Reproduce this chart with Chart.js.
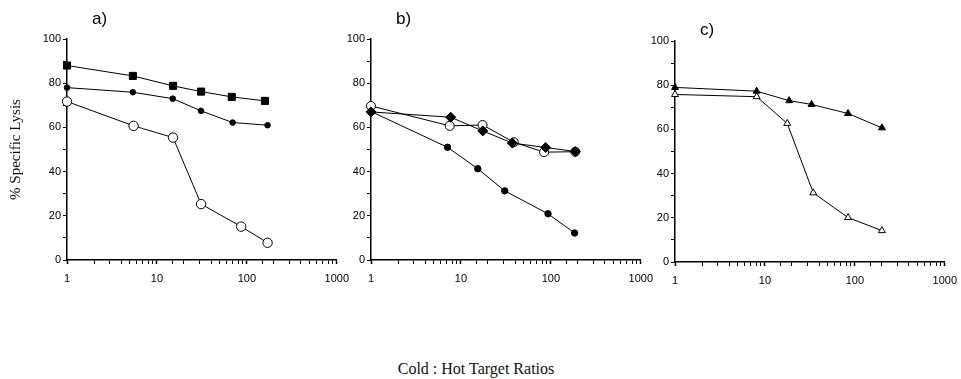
<!DOCTYPE html>
<html>
<head>
<meta charset="utf-8">
<script src="https://cdn.jsdelivr.net/npm/chart.js@4.4.1/dist/chart.umd.min.js"></script>
<style>
    body { margin: 0; background: #fff; }
    #wrap { position: relative; width: 961px; height: 379px; overflow: hidden; }
    #wrap canvas { position: absolute; }
    #caption { position: absolute; left: 0; width: 952px; top: 360px; text-align: center;
               font-family: 'Liberation Serif', serif; font-size: 16px; color: #111; }
</style>
</head>
<body>
<div id="wrap">
    <canvas id="panelA" width="357" height="300" style="left:0;top:0;"></canvas>
    <canvas id="panelB" width="357" height="300" style="left:304px;top:0;"></canvas>
    <canvas id="panelC" width="357" height="300" style="left:608px;top:2px;"></canvas>
    <div id="caption">Cold : Hot Target Ratios</div>
</div>
<script>
// panel letters and axis text
const panelTitles = ['a)', 'b)', 'c)'];
const yAxisTitle = '% Specific Lysis';
const xTickLabels = [1, 10, 100, 1000];
const yTickLabels = [0, 20, 40, 60, 80, 100];

// panel a
const aSquareX = [1, 5.4, 15.1, 31, 68, 159];
const aSquareY = [88, 83.3, 78.8, 76.2, 73.8, 72];
const aDotX = [1, 5.4, 15, 30.9, 69.5, 170];
const aDotY = [78, 75.9, 73, 67.5, 62.2, 61];
const aOpenX = [1, 5.5, 15.1, 31, 86.5, 170];
const aOpenY = [71.7, 60.7, 55.4, 25.3, 15.1, 7.8];

// panel b
const bDotX = [1, 7.1, 15.4, 30.7, 93, 184];
const bDotY = [67.2, 51, 41.3, 31.3, 20.9, 12.2];
const bDiamondX = [1, 7.7, 17.5, 37.3, 87.6, 187];
const bDiamondY = [67, 64.6, 58.4, 52.9, 50.9, 49.1];
const bOpenX = [1, 7.5, 17.4, 38.7, 84, 187];
const bOpenY = [69.7, 60.7, 61.1, 53.3, 48.8, 49];

// panel c
const cTriX = [1, 8.1, 18.6, 33, 84, 200];
const cTriY = [79, 77.3, 73, 71.3, 67.2, 60.7];
const cOpenTriX = [1, 8.1, 17.7, 34.5, 84, 200];
const cOpenTriY = [75.8, 74.8, 62.7, 31.3, 20.1, 14.2];

function pts(xs, ys) {
    return xs.map((x, i) => ({ x: x, y: ys[i] }));
}

function serie(xs, ys, style, radius, filled) {
    return {
        data: pts(xs, ys),
        showLine: true,
        borderColor: '#000',
        borderWidth: 1,
        pointStyle: style,
        pointRadius: radius,
        pointBorderWidth: 1,
        pointBorderColor: '#000',
        pointBackgroundColor: filled ? '#000' : '#fff',
        clip: false
    };
}

// draws the a) b) c) letters
const panelLetter = {
    id: 'panelLetter',
    afterDraw(chart, args, opts) {
        const ctx = chart.ctx;
        ctx.save();
        ctx.font = '17px "Liberation Sans", sans-serif';
        ctx.fillStyle = '#000';
        ctx.textBaseline = 'middle';
        ctx.fillText(opts.text, chart.chartArea.left + 25, opts.y);
        ctx.restore();
    }
};

function makePanel(id, datasets, letter, letterY, showYTitle) {
    const tickFont = { family: '"Liberation Sans", sans-serif', size: 11 };
    return new Chart(document.getElementById(id), {
        type: 'scatter',
        data: { datasets: datasets },
        plugins: [panelLetter],
        options: {
            responsive: false,
            animation: false,
            devicePixelRatio: 1,
            layout: { padding: { left: 0, top: 39, right: 20, bottom: 0 } },
            plugins: {
                legend: { display: false },
                tooltip: { enabled: false },
                panelLetter: { text: letter, y: letterY }
            },
            scales: {
                x: {
                    type: 'logarithmic',
                    min: 1,
                    max: 1000,
                    border: { color: '#000', width: 1.5 },
                    grid: {
                        drawOnChartArea: false, color: '#000', tickColor: '#000', tickLength: 4,
                        tickWidth: c => xTickLabels.includes(c.tick && c.tick.value) ? 1.5 : 1
                    },
                    ticks: {
                        color: '#000',
                        font: tickFont,
                        padding: 8,
                        maxRotation: 0,
                        autoSkip: false,
                        callback: v => xTickLabels.includes(v) ? String(v) : ''
                    },
                    afterFit: s => { s.height = 40; }
                },
                y: {
                    min: 0,
                    max: 100,
                    border: { color: '#000', width: 1.5 },
                    grid: { drawOnChartArea: false, color: '#000', tickColor: '#000', tickLength: 4 },
                    ticks: {
                        stepSize: 10,
                        color: '#000',
                        font: tickFont,
                        padding: 2,
                        callback: v => yTickLabels.includes(v) ? String(v) : ''
                    },
                    title: {
                        display: showYTitle,
                        text: yAxisTitle,
                        color: '#111',
                        font: { family: '"Liberation Serif", serif', size: 15 },
                        padding: { top: 7, bottom: 0 }
                    },
                    afterFit: s => { s.width = 67; }
                }
            }
        }
    });
}

makePanel('panelA', [
    serie(aSquareX, aSquareY, 'rect', 5, true),
    serie(aDotX, aDotY, 'circle', 2.8, true),
    serie(aOpenX, aOpenY, 'circle', 4.7, false)
], panelTitles[0], 19, true);

makePanel('panelB', [
    serie(bDotX, bDotY, 'circle', 3.2, true),
    serie(bDiamondX, bDiamondY, 'rectRot', 5, true),
    serie(bOpenX, bOpenY, 'circle', 4.5, false)
], panelTitles[1], 19, false);

makePanel('panelC', [
    serie(cTriX, cTriY, 'triangle', 4, true),
    serie(cOpenTriX, cOpenTriY, 'triangle', 4, false)
], panelTitles[2], 28, false);
</script>
</body>
</html>
